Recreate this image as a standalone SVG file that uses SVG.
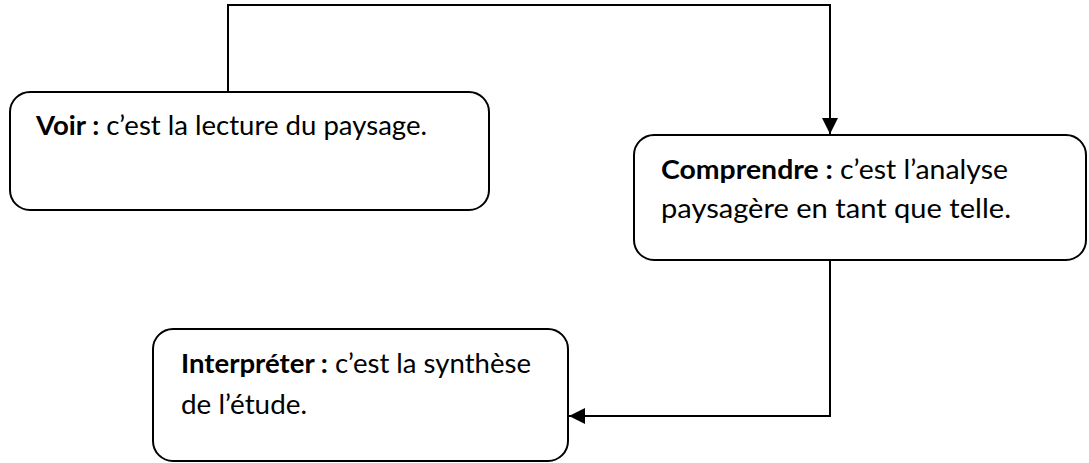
<svg xmlns="http://www.w3.org/2000/svg" width="1089" height="463" viewBox="0 0 1089 463">
  <defs>
    <style>
      .box { fill: #ffffff; stroke: #000000; stroke-width: 2; }
      .txt { font-family: Lato, "Liberation Sans", sans-serif; font-size: 26px; fill: #000000; }
      .b { font-weight: bold; }
      .conn { fill: none; stroke: #000000; stroke-width: 2; }
    </style>
    <marker id="arrow" viewBox="0 0 16 16" refX="16" refY="8" markerWidth="16" markerHeight="16" markerUnits="userSpaceOnUse" orient="auto">
      <path d="M0,0 L16,8 L0,16 Z" fill="#000000"/>
    </marker>
  </defs>
  <rect width="1089" height="463" fill="#ffffff"/>
  <g id="connectors">
    <path class="conn" d="M228,92 L228,5 L830,5 L830,134" marker-end="url(#arrow)"/>
    <path class="conn" d="M830,260 L830,416 L569,416" marker-end="url(#arrow)"/>
  </g>
  <g id="node-voir">
    <rect class="box" x="10" y="92" width="479" height="118" rx="20" ry="20"/>
    <text class="txt" x="36" y="135" textLength="391" lengthAdjust="spacingAndGlyphs"><tspan class="b">Voir :</tspan> c’est la lecture du paysage.</text>
  </g>
  <g id="node-comprendre">
    <rect class="box" x="634" y="135" width="452" height="125" rx="20" ry="20"/>
    <text class="txt" x="661" y="179" textLength="347" lengthAdjust="spacingAndGlyphs"><tspan class="b">Comprendre :</tspan> c’est l’analyse</text>
    <text class="txt" x="661" y="218" textLength="350" lengthAdjust="spacingAndGlyphs">paysagère en tant que telle.</text>
  </g>
  <g id="node-interpreter">
    <rect class="box" x="153" y="329" width="415" height="132" rx="20" ry="20"/>
    <text class="txt" x="181" y="373" textLength="350" lengthAdjust="spacingAndGlyphs"><tspan class="b">Interpréter :</tspan> c’est la synthèse</text>
    <text class="txt" x="181" y="414" textLength="126" lengthAdjust="spacingAndGlyphs">de l’étude.</text>
  </g>
</svg>
